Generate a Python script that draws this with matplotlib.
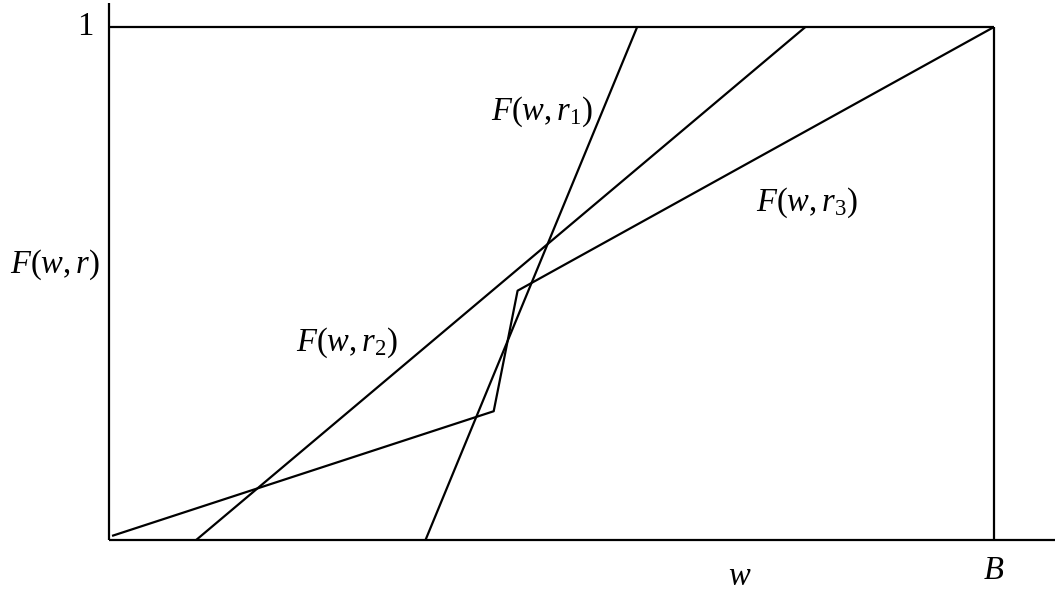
import matplotlib
matplotlib.use('Agg')
import matplotlib.pyplot as plt

plt.rcParams['mathtext.fontset'] = 'custom'
plt.rcParams['mathtext.rm'] = 'Liberation Serif'
plt.rcParams['mathtext.it'] = 'Liberation Serif:italic'
plt.rcParams['font.family'] = ['Liberation Serif', 'DejaVu Serif']

# budget w as a share of B, and F(w, r) values
B = 1.0
r1_w = [0.358, 0.597]
r1_F = [0.0, 1.0]
r2_w = [0.099, 0.787]
r2_F = [0.0, 1.0]
r3_w = [0.004, 0.435, 0.462, 1.0]
r3_F = [0.008, 0.251, 0.486, 1.0]

labels = ['$F(w,r_1)$', '$F(w,r_2)$', '$F(w,r_3)$']
label_pos = [(0.489, 0.834), (0.269, 0.384), (0.789, 0.657)]

# pixel -> data mapping: origin at (108.5, 540), B at 994, 1 at 27
x_lo, x_hi = -108.5 / 885.5, (1055 - 108.5) / 885.5
y_lo, y_hi = -(592 - 540) / 513, 540 / 513

fig = plt.figure(figsize=(10.55, 5.92), dpi=100)
ax = fig.add_axes([0, 0, 1, 1])
ax.set_xlim(x_lo, x_hi)
ax.set_ylim(y_lo, y_hi)
ax.axis('off')

lw = 1.6
kw = dict(color='black', lw=lw, solid_capstyle='butt')

# axes
ax.plot([0, x_hi], [0, 0], **kw)
ax.plot([0, 0], [0, 1.047], **kw)
# frame at F = 1 and w = B
ax.plot([0, B], [1, 1], **kw)
ax.plot([B, B], [0, 1], **kw)

ax.plot(r1_w, r1_F, **kw)
ax.plot(r2_w, r2_F, **kw)
ax.plot(r3_w, r3_F, **kw)

fs = 23.5
for txt, (x, y) in zip(labels, label_pos):
  ax.text(x, y, txt, fontsize=fs, ha='center', va='center')

ax.text(-0.0265, 1.0, '1', fontsize=fs, ha='center', va='center')
ax.text(-0.060, 0.537, '$F(w,r)$', fontsize=fs, ha='center', va='center')
ax.text(0.713, -0.071, '$w$', fontsize=fs, ha='center', va='center')
ax.text(B, -0.059, '$B$', fontsize=fs, ha='center', va='center')

fig.savefig('out.png', dpi=100)
